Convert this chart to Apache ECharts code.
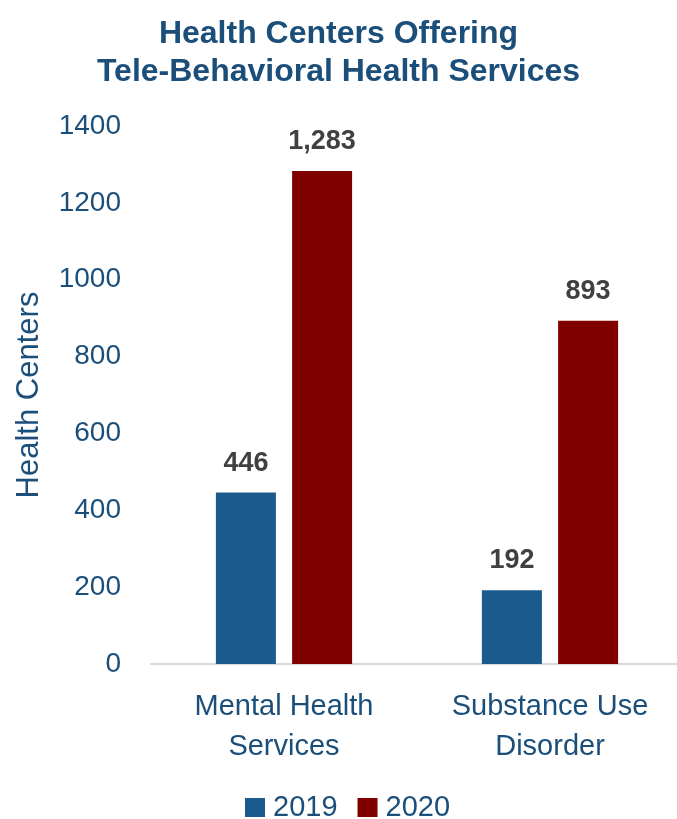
<!DOCTYPE html>
<html><head><meta charset="utf-8">
<script src="https://cdn.jsdelivr.net/npm/echarts@6/dist/echarts.min.js"></script>
<style>html,body{margin:0;padding:0;background:#fff}#c{width:677px;height:819px}</style>
</head><body><div id="c"></div>
<script>
const categories = ['Mental Health\nServices', 'Substance Use\nDisorder'];
const series2019 = [446, 192];
const series2020 = [1283, 893];
const yTicks = [0, 200, 400, 600, 800, 1000, 1200, 1400];

const BLUE = '#1B4F7A';
const FONT = '"Liberation Sans", sans-serif';
const chart = echarts.init(document.getElementById('c'));
chart.setOption({
  animation: false,
  title: {
    text: 'Health Centers Offering\nTele-Behavioral Health Services',
    left: 'center', top: 10,
    textStyle: {color: BLUE, fontSize: 32, fontWeight: 'bold', fontFamily: FONT, lineHeight: 38}
  },
  legend: {
    bottom: -8, left: 240, itemWidth: 20, itemHeight: 19, itemGap: 20,
    icon: 'rect',
    textStyle: {color: BLUE, fontSize: 29, fontFamily: FONT, padding: [0, 0, 0, 3]}
  },
  grid: {left: 151, width: 532, top: 126, bottom: 155, containLabel: false, outerBoundsMode: 'none'},
  xAxis: {
    type: 'category', data: categories,
    axisLine: {lineStyle: {color: '#D9D9D9', width: 2}},
    axisTick: {show: false},
    axisLabel: {color: BLUE, fontSize: 29, fontFamily: FONT, lineHeight: 40, margin: 23}
  },
  yAxis: {
    type: 'value', min: yTicks[0], max: yTicks[yTicks.length - 1], interval: 200,
    name: 'Health Centers', nameLocation: 'middle', nameGap: 106, nameRotate: 90,
    nameTextStyle: {color: BLUE, fontSize: 31, fontFamily: FONT},
    splitLine: {show: false}, axisLine: {show: false}, axisTick: {show: false},
    axisLabel: {color: BLUE, fontSize: 28, fontFamily: FONT, margin: 30, formatter: v => String(v)}
  },
  series: [
    {name: '2019', type: 'bar', data: series2019, barWidth: 60, barGap: '27%',
     itemStyle: {color: '#1B5A8C'},
     label: {show: true, position: 'top', distance: 16, color: '#404040', fontSize: 27, fontWeight: 'bold', fontFamily: FONT,
       formatter: p => p.value.toLocaleString('en-US')}},
    {name: '2020', type: 'bar', data: series2020, barWidth: 60,
     itemStyle: {color: '#800000'},
     label: {show: true, position: 'top', distance: 16, color: '#404040', fontSize: 27, fontWeight: 'bold', fontFamily: FONT,
       formatter: p => p.value.toLocaleString('en-US')}}
  ]
});
</script></body></html>
